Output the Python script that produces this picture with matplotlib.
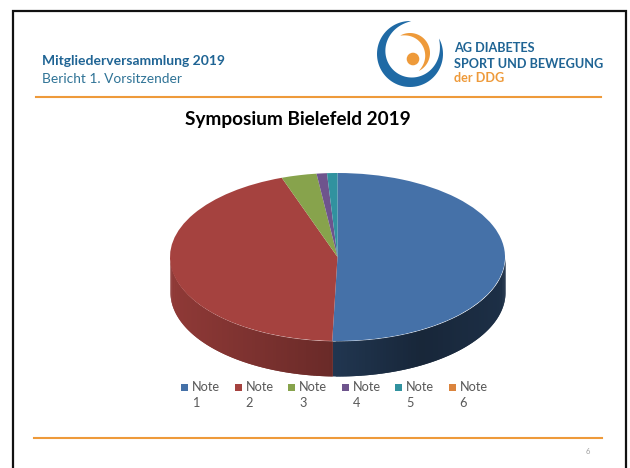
import numpy as np
import matplotlib
matplotlib.use("Agg")
import matplotlib.pyplot as plt
from matplotlib.patches import Polygon, Circle, Rectangle

plt.rcParams['font.family'] = ['Lato', 'DejaVu Sans']

# values (share in percent)
labels = ["Note 1", "Note 2", "Note 3", "Note 4", "Note 5", "Note 6"]
values = [50.5, 44.1, 3.4, 1.0, 1.0, 0.0]
colors = ["#4571a8", "#a5423f", "#87a34c", "#6e548d", "#31929f", "#db843d"]

W, H = 630, 468
BLUE = "#1f6494"
ORANGE = "#ee9a3a"

fig = plt.figure(figsize=(W / 100, H / 100), dpi=100, facecolor="white")

# slide furniture, axes in pixel coordinates
bg = fig.add_axes([0, 0, 1, 1])
bg.set_xlim(0, W)
bg.set_ylim(H, 0)
bg.axis("off")


def crescent(cx, cy, r, start, end, width, color):
    # thick arc that tapers towards both ends
    t = np.radians(np.linspace(start, end, 80))
    w = width * np.sin(np.linspace(0, np.pi, 80)) ** 0.8
    outer = np.c_[cx + r * np.cos(t), cy - r * np.sin(t)]
    inner = np.c_[cx + (r - w) * np.cos(t), cy - (r - w) * np.sin(t)][::-1]
    bg.add_patch(Polygon(np.r_[outer, inner], closed=True, fc=color, ec="none"))


# frame, no line at the bottom
bg.plot([13, 13, 626, 626], [H, 11, 11, H], color="#111111", lw=1.6, solid_joinstyle="miter")

bg.plot([36, 601], [96.5, 96.5], color=ORANGE, lw=1.5)
bg.plot([34, 602], [438, 438], color=ORANGE, lw=1.5)

bg.text(42, 61, "Mitgliederversammlung 2019", fontsize=10, fontweight="bold", color=BLUE, va="center")
bg.text(42, 79, "Bericht 1. Vorsitzender", fontsize=9.9, color="#2f7396", va="center")
bg.text(454, 48.5, "AG DIABETES", fontsize=9.1, fontweight="bold", color=BLUE, va="center")
bg.text(454, 63.5, "SPORT UND BEWEGUNG", fontsize=9.1, fontweight="bold", color=BLUE, va="center")
bg.text(454, 78.5, "der DDG", fontsize=9.1, fontweight="bold", color=ORANGE, va="center")
bg.text(297.5, 120, "Symposium Bielefeld 2019", fontsize=13.7, fontweight="bold", color="black", ha="center", va="center")
bg.text(588, 451, "6", fontsize=5.5, color="#a0a0a0", ha="center", va="center")

# logo
crescent(410, 54, 33, 88, 388, 10, "#1f6aa5")
crescent(410, 53, 20, 119, -63, 5.5, ORANGE)
bg.add_patch(Circle((413, 59), 6.3, fc=ORANGE, ec="none"))

# pie, ellipse of 335 x 168 px
ax = fig.add_axes([170 / W, 1 - 341 / H, 335 / W, 168 / H])
ax.pie(values, colors=colors, startangle=90, counterclock=False, radius=1,
       wedgeprops={"linewidth": 0})
ax.set_aspect("auto")
ax.set_xlim(-1, 1)
ax.set_ylim(-1, 1)

# side wall of the pie, shaded strip by strip
depth = 35 / 84
shade_x = [-1, -0.034, -0.033, 0.5, 1]
shade_v = [0.87, 0.64, 0.48, 0.34, 0.42]
ends = 90 - np.cumsum(values) * 3.6
starts = np.r_[90, ends[:-1]]
for a0, a1, col in zip(starts, ends, colors):
    # keep the part of the wedge on the front half (-180..0 degrees)
    lo = max(a1, -180)
    hi = min(a0, 0)
    if hi <= lo:
        continue
    base = np.array(matplotlib.colors.to_rgb(col))
    t = np.radians(np.linspace(lo, hi, 90))
    for i in range(len(t) - 1):
        # each strip runs on under the next one so no seams show
        seg = np.linspace(t[i], t[min(i + 2, len(t) - 1)], 5)
        xs = np.cos(seg)
        top = np.sin(seg)
        c = base * np.interp(np.cos(t[i:i + 2]).mean(), shade_x, shade_v)
        ax.fill_between(xs, top, top - depth, color=c, lw=0, clip_on=False, zorder=0)

# legend, each label wraps onto a second line
for i, (lab, col) in enumerate(zip(labels, colors)):
    word, num = lab.split()
    x = 181 + i * 53.5
    bg.add_patch(Rectangle((x, 384), 7, 7, fc=col, ec="none"))
    bg.text(x + 11, 387, word, fontsize=9.2, color="#595959", va="center")
    bg.text(x + 11, 403, num, fontsize=9.2, color="#595959", va="center")

fig.savefig("out.png", dpi=100)
